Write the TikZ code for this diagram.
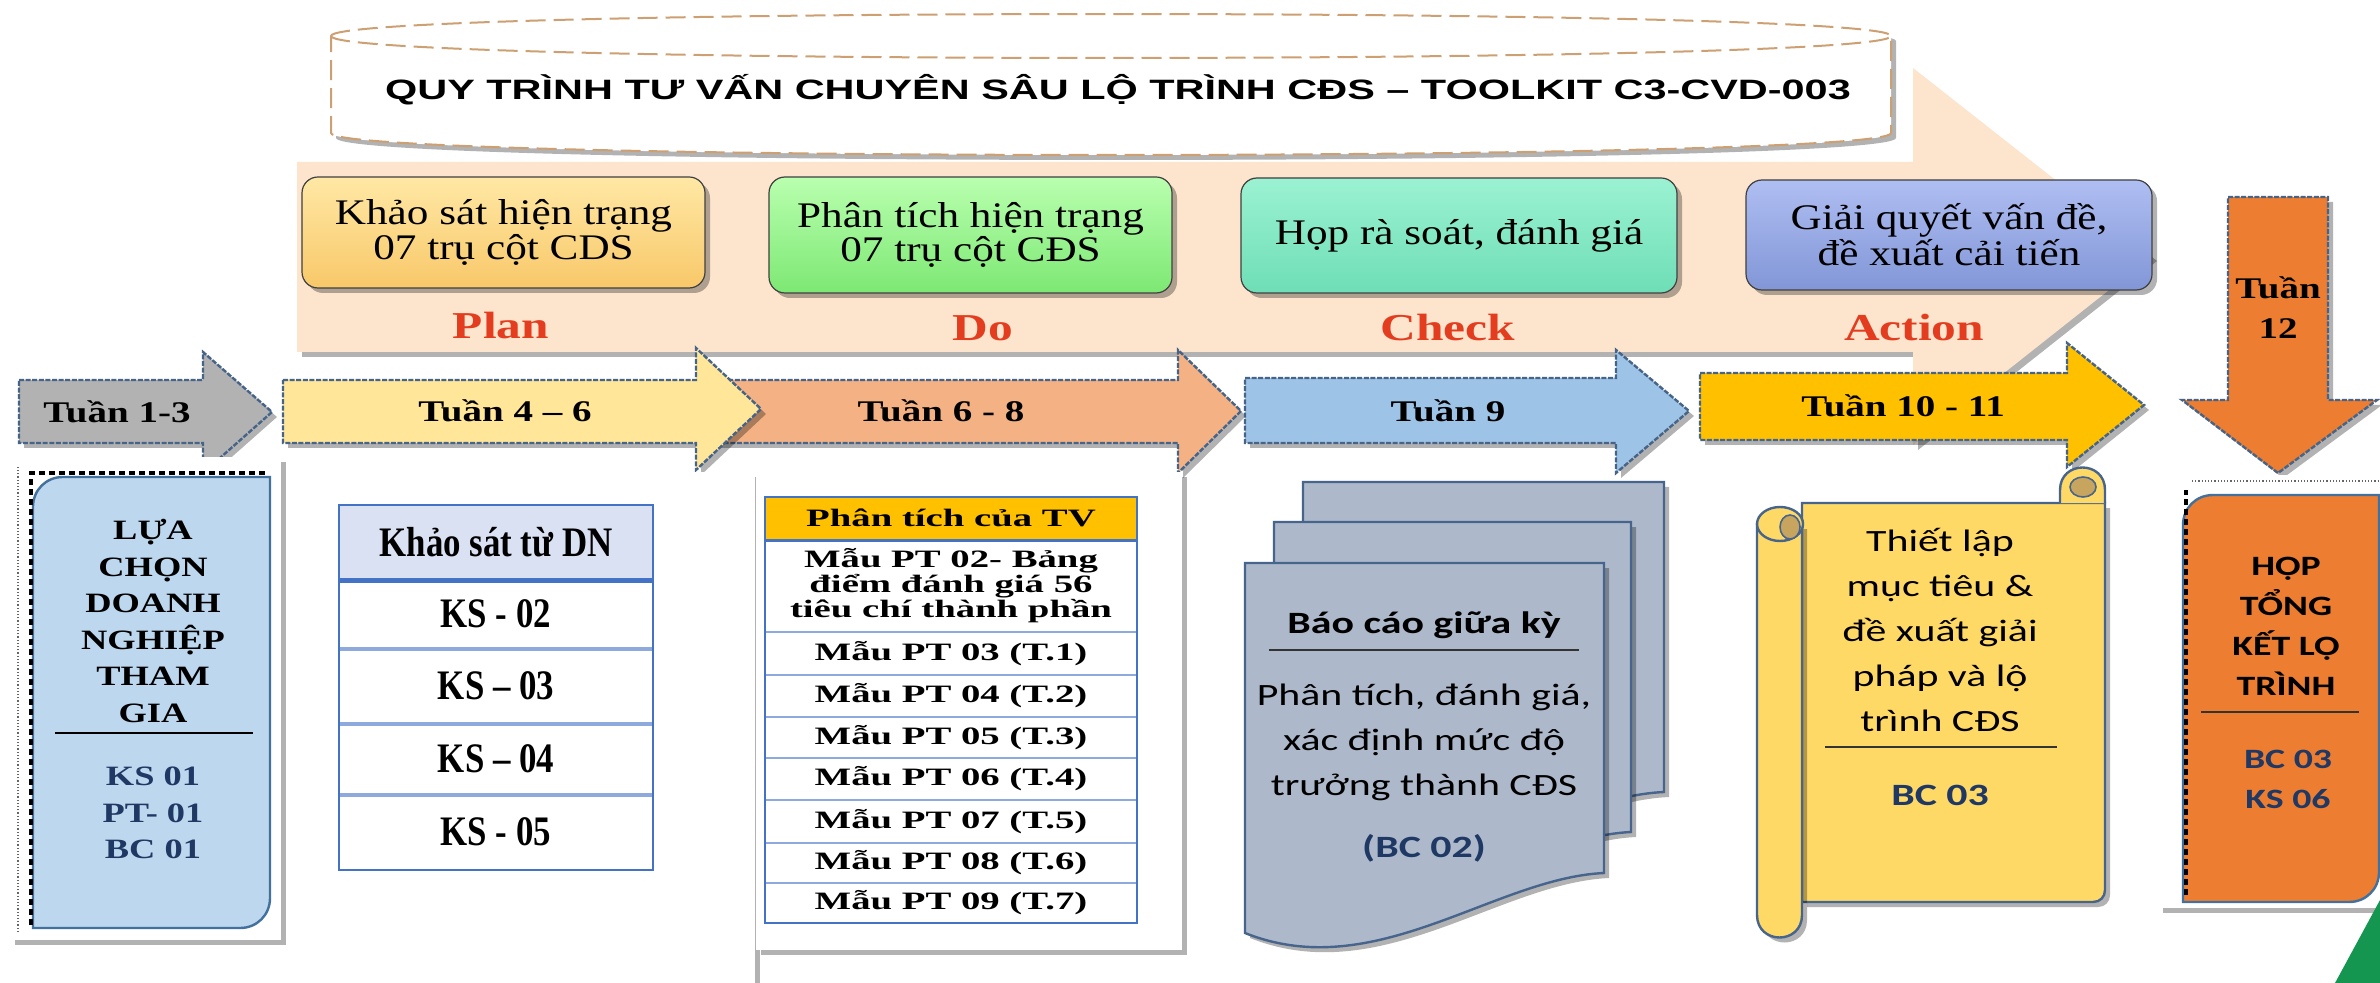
\documentclass[tikz,border=0pt]{standalone}
\usepackage{fontspec}
\setmainfont{Liberation Serif}
\newfontfamily\titlefont[FakeStretch=1.48]{Liberation Sans}
\newfontfamily\weekfont[FakeStretch=1.3]{Liberation Serif}
\newfontfamily\boxfont[FakeStretch=1.2]{Liberation Serif}
\newfontfamily\ksfont[FakeStretch=0.83]{Liberation Serif}
\newfontfamily\ptfont[FakeStretch=1.55]{Liberation Serif}
\newfontfamily\docfont[FakeStretch=1.35]{Carlito}
\usetikzlibrary{shadows}

\definecolor{peach}{RGB}{252,228,205}
\definecolor{titleedge}{RGB}{205,160,115}
\definecolor{weekedge}{RGB}{70,100,135}
\definecolor{planA}{RGB}{255,232,165}
\definecolor{planB}{RGB}{248,200,105}
\definecolor{doA}{RGB}{185,255,175}
\definecolor{doB}{RGB}{125,232,115}
\definecolor{checkA}{RGB}{155,242,210}
\definecolor{checkB}{RGB}{110,222,182}
\definecolor{actA}{RGB}{175,190,242}
\definecolor{actB}{RGB}{130,150,215}
\definecolor{pdcared}{RGB}{228,60,30}
\definecolor{wkgray}{RGB}{178,178,178}
\definecolor{wkyellow}{RGB}{255,230,153}
\definecolor{wksalmon}{RGB}{244,177,131}
\definecolor{wkblue}{RGB}{157,195,230}
\definecolor{wkgold}{RGB}{255,192,0}
\definecolor{wkorange}{RGB}{237,125,49}
\definecolor{lightblue}{RGB}{189,215,238}
\definecolor{boxedge}{RGB}{65,113,156}
\definecolor{navy}{RGB}{31,56,100}
\definecolor{tblue}{RGB}{68,114,196}
\definecolor{tsep}{RGB}{142,169,219}
\definecolor{thead}{RGB}{217,225,242}
\definecolor{docfill}{RGB}{173,185,202}
\definecolor{docedge}{RGB}{70,100,140}
\definecolor{scrollfill}{RGB}{255,217,102}
\definecolor{scrolltan}{RGB}{200,165,95}
\definecolor{logogreen}{RGB}{20,150,80}

\tikzset{
  softshadow/.style={drop shadow={shadow xshift=2.5pt,shadow yshift=-2.5pt,opacity=0.3,fill=black}},
  weekarrow/.style={draw=weekedge,line width=1.2pt,dash pattern=on 2.5pt off 0.8pt,softshadow},
  weeklabel/.style={inner sep=0pt,align=center,font=\weekfont\bfseries\fontsize{15}{20}\selectfont},
  pdcabox/.style={draw=black!75,line width=0.6pt,rounded corners=8pt,softshadow,align=center,
    font=\boxfont\fontsize{18}{16}\selectfont},
  pdcalabel/.style={inner sep=0pt,text=pdcared,font=\weekfont\bfseries\fontsize{19}{20}\selectfont},
  leftlabel/.style={inner sep=0pt,align=center,font=\weekfont\bfseries\fontsize{14}{18.25}\selectfont},
  kslabel/.style={inner sep=0pt,font=\ksfont\bfseries\fontsize{21}{22}\selectfont},
  ptlabel/.style={inner sep=0pt,align=center,font=\ptfont\bfseries\fontsize{12.5}{12.5}\selectfont},
  doctext/.style={inner sep=0pt,align=center,font=\docfont\fontsize{15.5}{22.5}\selectfont},
  docbold/.style={inner sep=0pt,align=center,font=\docfont\bfseries\fontsize{15.5}{22.5}\selectfont},
  hoplabel/.style={inner sep=0pt,align=center,font=\docfont\bfseries\fontsize{14}{20}\selectfont},
  scrolledge/.style={draw=docedge,line width=1.2pt}
}

\begin{document}
\begin{tikzpicture}[x=0.5pt,y=-0.5pt]
  \useasboundingbox (0,0) rectangle (2380,983);
  \fill[white] (0,0) rectangle (2380,983);

  % big peach arrow
  \fill[peach,softshadow] (297,162) -- (1913,162) -- (1913,68) -- (2152,256) -- (1913,445) -- (1913,352) -- (297,352) -- cycle;

  % title band
  \draw[softshadow,fill=white,draw=titleedge,line width=1pt,dash pattern=on 10pt off 4pt] (331,36) .. controls (331,6.7) and (1891,6.7) .. (1891,36) -- (1891,133) .. controls (1891,162.3) and (331,162.3) .. (331,133) -- cycle;
  \draw[draw=titleedge,line width=1pt,dash pattern=on 10pt off 4pt] (331,36) .. controls (331,65.3) and (1891,65.3) .. (1891,36);
  \node[inner sep=0pt,font=\titlefont\bfseries\fontsize{14}{17}\selectfont] (title) at (1118,90) {QUY TRÌNH TƯ VẤN CHUYÊN SÂU LỘ TRÌNH CĐS – TOOLKIT C3-CVD-003};

  % PDCA boxes
  \node[pdcabox,top color=planA,bottom color=planB,minimum width=201.5pt,minimum height=55.5pt] (survey) at (503.5,232.5) {Khảo sát hiện trạng\\07 trụ cột CDS};
  \node[pdcabox,top color=doA,bottom color=doB,minimum width=201.5pt,minimum height=58pt] (analysis) at (970.5,235) {Phân tích hiện trạng\\07 trụ cột CĐS};
  \node[pdcabox,top color=checkA,bottom color=checkB,minimum width=218pt,minimum height=57.5pt] (review) at (1459,235.5) {Họp rà soát, đánh giá};
  \node[pdcabox,top color=actA,bottom color=actB,minimum width=203pt,minimum height=55pt] (solve) at (1949,235) {Giải quyết vấn đề,\\đề xuất cải tiến};
  \node[pdcalabel] (planlbl) at (501,326) {Plan};
  \node[pdcalabel] (dolbl) at (983,328) {Do};
  \node[pdcalabel] (checklbl) at (1448,328) {Check};
  \node[pdcalabel] (actlbl) at (1914,328) {Action};

  % week arrows
  \draw[weekarrow,fill=wkgray] (19,380) -- (203,380) -- (203,352) -- (272,412) -- (203,473) -- (203,443) -- (19,443) -- cycle;
  \draw[weekarrow,fill=wksalmon] (715,380) -- (1178,380) -- (1178,350) -- (1241,411) -- (1178,473) -- (1178,443) -- (715,443) -- cycle;
  \draw[weekarrow,fill=wkyellow] (283,380) -- (696,380) -- (696,348) -- (761,409) -- (696,470) -- (696,443) -- (283,443) -- cycle;
  \draw[weekarrow,fill=wkblue] (1245,378) -- (1616,378) -- (1616,350) -- (1689,411) -- (1616,473) -- (1616,443) -- (1245,443) -- cycle;
  \draw[weekarrow,fill=wkgold] (1700,373) -- (2067,373) -- (2067,343) -- (2144,405) -- (2067,467) -- (2067,440) -- (1700,440) -- cycle;
  \draw[weekarrow,fill=wkorange] (2228,197) -- (2328,197) -- (2328,400) -- (2377,400) -- (2278,473) -- (2182,400) -- (2228,400) -- cycle;
  \node[weeklabel] (w13) at (117,412) {Tuần 1-3};
  \node[weeklabel] (w46) at (505,411) {Tuần 4 – 6};
  \node[weeklabel] (w68) at (941,411) {Tuần 6 - 8};
  \node[weeklabel] (w9) at (1448,411) {Tuần 9};
  \node[weeklabel] (w1011) at (1903,406) {Tuần 10 - 11};
  \node[weeklabel] (w12) at (2278,308) {Tuần\\12};

  % left card
  \fill[white,softshadow] (10,457) rectangle (281,940);
  \draw[black!60,densely dotted,line width=0.6pt] (18,932) -- (18,465);
  \draw[fill=lightblue,draw=boxedge,line width=1.2pt] (63,477) -- (270,477) -- (270,898) .. controls (270,915) and (257,928) .. (240,928) -- (33,928) -- (33,507) .. controls (33,490) and (46,477) .. (63,477) -- cycle;
  \draw[black,line width=2pt,dash pattern=on 3pt off 2pt] (31,925) -- (31,473) -- (265,473);
  \node[leftlabel] (select) at (153,621) {LỰA\\CHỌN\\DOANH\\NGHIỆP\\THAM\\GIA};
  \draw[line width=1.3pt] (55,733) -- (253,733);
  \node[leftlabel,text=navy] (selcodes) at (153,813) {KS 01\\PT- 01\\BC 01};

  % survey table
  \fill[white,softshadow] (286,472) rectangle (755,1000);
  \fill[thead] (339,505) rectangle (653,580);
  \draw[tsep,line width=2pt] (339,649) -- (653,649);
  \draw[tsep,line width=2pt] (339,724) -- (653,724);
  \draw[tsep,line width=2pt] (339,795) -- (653,795);
  \draw[tblue,line width=2.5pt] (339,580) -- (653,580);
  \draw[tblue,line width=1.2pt] (339,505) rectangle (653,870);
  \node[kslabel] (kshd) at (496,542) {Khảo sát từ DN};
  \node[kslabel] (ks02) at (496,614) {KS - 02};
  \node[kslabel] (ks03) at (496,686) {KS – 03};
  \node[kslabel] (ks04) at (496,759) {KS – 04};
  \node[kslabel] (ks05) at (496,832) {KS - 05};

  % analysis table
  \fill[white,softshadow] (756,472) rectangle (1182,950);
  \fill[wkgold] (765,497) rectangle (1137,540);
  \draw[tsep,line width=1.2pt] (765,632) -- (1137,632);
  \draw[tsep,line width=1.2pt] (765,675) -- (1137,675);
  \draw[tsep,line width=1.2pt] (765,717) -- (1137,717);
  \draw[tsep,line width=1.2pt] (765,758) -- (1137,758);
  \draw[tsep,line width=1.2pt] (765,800) -- (1137,800);
  \draw[tsep,line width=1.2pt] (765,843) -- (1137,843);
  \draw[tsep,line width=1.2pt] (765,883) -- (1137,883);
  \draw[tblue,line width=1.5pt] (765,540) -- (1137,540);
  \draw[tblue,line width=1.2pt] (765,497) rectangle (1137,923);
  \node[ptlabel] (pthd) at (951,518) {Phân tích của TV};
  \node[ptlabel] (pt02) at (951,586) {Mẫu PT 02- Bảng\\điểm đánh giá 56\\tiêu chí thành phần};
  \node[ptlabel] (pt03) at (951,653.5) {Mẫu PT 03 (T.1)};
  \node[ptlabel] (pt04) at (951,696) {Mẫu PT 04 (T.2)};
  \node[ptlabel] (pt05) at (951,737.5) {Mẫu PT 05 (T.3)};
  \node[ptlabel] (pt06) at (951,779) {Mẫu PT 06 (T.4)};
  \node[ptlabel] (pt07) at (951,821.5) {Mẫu PT 07 (T.5)};
  \node[ptlabel] (pt08) at (951,863) {Mẫu PT 08 (T.6)};
  \node[ptlabel] (pt09) at (951,903) {Mẫu PT 09 (T.7)};

  % report documents
  \draw[fill=docfill,draw=docedge,line width=1.2pt,softshadow] (1303,482) -- (1664,482) -- (1664,792) .. controls (1552,797) and (1433,904) .. (1303,852) -- cycle;
  \draw[fill=docfill,draw=docedge,line width=1.2pt,softshadow] (1274,522) -- (1631,522) -- (1631,832) .. controls (1523,837) and (1404,944) .. (1274,892) -- cycle;
  \draw[fill=docfill,draw=docedge,line width=1.2pt,softshadow] (1245,563) -- (1604,563) -- (1604,873) .. controls (1494,878) and (1375,985) .. (1245,933) -- cycle;
  \node[docbold] (rpt) at (1424,625) {Báo cáo giữa kỳ};
  \draw[black!80,line width=1pt] (1269,650) -- (1579,650);
  \node[doctext] (rptbody) at (1424,742) {Phân tích, đánh giá,\\xác định mức độ\\trưởng thành CĐS};
  \node[docbold,text=navy] (rptcode) at (1424,848) {(BC 02)};

  % scroll
  \draw[scrolledge,fill=scrollfill,softshadow] (1802,503) -- (2105,503) -- (2105,890) .. controls (2105,897) and (2100,902) .. (2093,902) -- (1802,902) -- cycle;
  \draw[scrolledge,fill=scrollfill] (2060,503) -- (2060,490) .. controls (2060,460) and (2105,460) .. (2105,490) -- (2105,503);
  \draw[scrolledge,fill=scrolltan,line width=0.8pt] (2083,487) ellipse [x radius=13, y radius=10];
  \draw[scrolledge,fill=scrollfill,softshadow] (1757,524) -- (1757,915) .. controls (1757,945) and (1802,945) .. (1802,915) -- (1802,524) -- cycle;
  \draw[scrolledge,fill=scrollfill] (1780,524) ellipse [x radius=23, y radius=17];
  \draw[scrolledge,fill=scrolltan,line width=0.8pt] (1790,527) ellipse [x radius=10, y radius=12];
  \node[doctext] (goal) at (1940,630) {Thiết lập\\mục tiêu \&\\đề xuất giải\\pháp và lộ\\trình CĐS};
  \draw[black!80,line width=1pt] (1825,747) -- (2057,747);
  \node[docbold,text=navy] (goalcode) at (1940,795) {BC 03};

  % closing meeting card
  \fill[white,softshadow] (2158,475) rectangle (2380,908);
  \draw[black!60,densely dotted,line width=0.6pt] (2192,481) -- (2380,481);
  \draw[fill=wkorange,draw=boxedge,line width=1.2pt] (2213,495) -- (2379,495) -- (2379,872) .. controls (2379,889) and (2366,902) .. (2349,902) -- (2183,902) -- (2183,525) .. controls (2183,508) and (2196,495) .. (2213,495) -- cycle;
  \draw[black,line width=2pt,dash pattern=on 3pt off 2pt] (2186,895) -- (2186,490);
  \node[hoplabel] (meet) at (2286,626) {HỌP\\TỔNG\\KẾT L^^^^1ed8\\TRÌNH};
  \draw[black!80,line width=1pt] (2201,712) -- (2359,712);
  \node[hoplabel,text=navy] (meetcodes) at (2288,779) {BC 03\\KS 06};

  % logo corner
  \fill[logogreen] (2335,983) -- (2380,900) -- (2380,983) -- cycle;
\end{tikzpicture}
\end{document}
